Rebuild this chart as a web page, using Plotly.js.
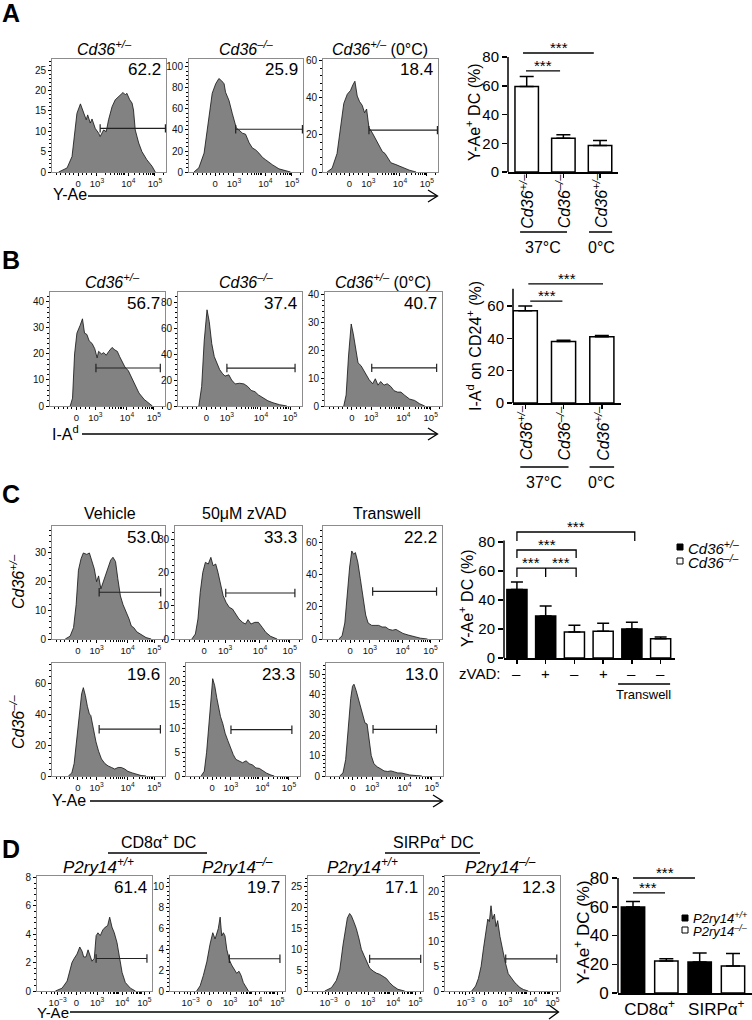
<!DOCTYPE html>
<html><head><meta charset="utf-8">
<script src="https://cdn.plot.ly/plotly-3.0.1.min.js"></script>
<style>html,body{margin:0;padding:0;background:#fff}</style>
</head><body><div id="chart" style="width:752px;height:1020px"></div>
<script>
// ---------------- DATA ----------------
// Histogram x values are in display units on the biexponential axis (3 = 10^3, 4 = 10^4 ...)
const a1X = [1.68,1.97,2.14,2.22,2.31,2.43,2.54,2.63,2.68,2.77,2.83,2.94,3.06,3.11,3.23,3.32,3.40,3.52,3.63,3.75,3.83,3.90,3.98,4.03,4.13,4.21,4.26,4.32,4.44,4.55,4.72,4.90,5.01];
const a1Y = [0,1,3.8,8.5,14.4,16.7,14.4,12.8,14,12,13,10.7,9.5,8.7,10.3,9.9,12.8,16,17.7,18.5,18.9,19.5,18.9,19.3,17.7,16.9,15.2,10.3,7.1,5,3,1.4,0];
const a2X = [1.62,1.79,1.97,2.08,2.16,2.25,2.37,2.48,2.57,2.66,2.71,2.83,2.94,3.08,3.17,3.29,3.40,3.52,3.63,3.75,3.86,3.98,4.09,4.21,4.32,4.55,4.78,4.95];
const a2Y = [0,4,18,40,60,75,84,89,87,84,76,68,56,42,40,37,36,28,23,21,18,14,11.7,9,7,3,1,0];
const a3X = [1.59,1.76,1.93,2.05,2.16,2.28,2.39,2.47,2.54,2.62,2.70,2.79,2.87,2.94,3.02,3.14,3.25,3.37,3.48,3.57,3.66,3.77,3.94,4.17,4.40,4.63];
const a3Y = [0,2,10,25,37,42,44,47,49,41,38,36,32,34,24,21,18,14,11,10,8,5,4,2.5,1,0];

const b1X = [2.14,2.22,2.29,2.37,2.48,2.56,2.63,2.71,2.79,2.89,2.98,3.06,3.11,3.21,3.29,3.37,3.46,3.57,3.67,3.75,3.83,3.92,4.01,4.13,4.24,4.36,4.49,4.67,4.84,4.95];
const b1Y = [0,3,20,28,31,33.5,28,27.5,25,24,22,18.5,21,20,20.5,19.5,21,22.5,21.5,21,19,17,15,13.5,11,8,5,2.5,0.8,0];
const b2X = [2.11,2.20,2.28,2.37,2.44,2.52,2.60,2.69,2.77,2.86,2.94,3.06,3.15,3.26,3.40,3.54,3.66,3.77,3.89,4.00,4.15,4.30,4.46,4.67,4.90];
const b2Y = [0,15,50,74,65,48,38,33,28,25,23,24,20,17,17.5,17,15,12,11,8.5,6,4,2.5,1,0];
const b3X = [2.08,2.16,2.24,2.33,2.40,2.48,2.56,2.66,2.74,2.83,2.93,3.05,3.14,3.23,3.32,3.43,3.54,3.66,3.77,3.89,4.00,4.11,4.29,4.46,4.63,4.80];
const b3Y = [0,4,18,29.5,26,20,15.5,14.5,13,11,9.5,8,9.8,7.5,8.8,7.5,8,7,5.5,5,5,4,2.5,2,0.8,0];

const c11X = [1.91,2.08,2.20,2.29,2.37,2.46,2.54,2.66,2.75,2.83,2.92,3.00,3.07,3.15,3.23,3.32,3.41,3.49,3.57,3.66,3.74,3.83,3.92,4.01,4.13,4.21,4.29,4.40,4.55,4.72,4.90];
const c11Y = [0,1,4,12,24,28,30,29.5,30,27,24.5,20,22,17.5,20,23,25.5,27.5,28.5,27,21,15,12,10,7,4.5,4,2.5,1.5,0.5,0];
const c12X = [1.97,2.08,2.16,2.23,2.31,2.39,2.48,2.56,2.63,2.71,2.78,2.85,2.94,3.03,3.13,3.23,3.32,3.43,3.54,3.63,3.71,3.80,3.92,4.03,4.15,4.26,4.41,4.61];
const c12Y = [0,1.5,6,14,20,23,22.5,24.5,22,22.5,20,17,13,11,9.5,9,7.5,6,5,4.5,5.8,4.5,5,5,3.5,2,0.8,0];
const c13X = [1.97,2.08,2.17,2.25,2.33,2.40,2.46,2.52,2.60,2.68,2.77,2.86,2.94,3.06,3.17,3.29,3.40,3.52,3.63,3.75,3.86,3.98,4.09,4.26,4.44,4.67,4.90];
const c13Y = [0,2,10,28,45,55,53,54,48,38,25,15,10,8.5,8.5,8.5,7.5,7.5,6,5.5,6,4.5,3.5,2.5,1.5,0.5,0];
const c21X = [2.02,2.14,2.22,2.31,2.40,2.48,2.54,2.61,2.68,2.75,2.80,2.89,2.98,3.07,3.17,3.29,3.40,3.52,3.63,3.75,3.86,3.98,4.09,4.24,4.38,4.55,4.72];
const c21Y = [0,2,8,25,42,53,57,52,45,40,39,30,22,16,11,8,6.5,5.5,4.5,5.5,5.5,4.5,3,2,1,0.3,0];
const c22X = [1.97,2.08,2.16,2.23,2.31,2.37,2.44,2.51,2.59,2.64,2.72,2.80,2.89,2.98,3.08,3.17,3.29,3.40,3.52,3.63,3.75,3.86,3.98,4.09,4.23,4.38,4.49];
const c22Y = [0,1,5,11,16,20.5,19,16.5,14,12.5,11,9,7.5,6,4.5,3.5,3.2,2.8,3.2,2.6,2.3,1.7,1.6,1.1,0.6,0.2,0];
const c23X = [1.91,2.02,2.11,2.20,2.28,2.34,2.39,2.46,2.54,2.62,2.69,2.76,2.83,2.90,2.97,3.06,3.17,3.29,3.40,3.52,3.63,3.75,3.86,3.98,4.09,4.26,4.49,4.67];
const c23Y = [0,1.5,8,25,38,44,45,42,38,33,30,26,25.5,17,10,6,4.5,3.5,2.5,2.2,2.5,2,1.5,1.5,1,0.5,0.2,0];

const d1X = [1.19,1.48,1.70,1.84,1.91,2.01,2.13,2.25,2.35,2.42,2.52,2.61,2.68,2.78,2.88,2.96,3.04,3.14,3.25,3.36,3.46,3.55,3.65,3.75,3.87,3.97,4.09,4.23,4.45,4.67];
const d1Y = [0,0.2,0.7,1.5,2.0,2.3,2.6,3.1,2.8,2.4,2.4,2.9,2.6,2.1,2.3,3.9,4.1,3.9,4.3,4.5,4.6,5.2,4.5,4.1,3.4,2.3,1.3,0.6,0.2,0];
const d2X = [1.55,1.70,1.84,1.99,2.13,2.25,2.35,2.42,2.49,2.57,2.64,2.71,2.78,2.86,2.97,3.07,3.19,3.29,3.39,3.48,3.58,3.70,3.80];
const d2Y = [0,0.5,1.5,2.8,4.5,5.6,5.0,5.5,6.0,7.1,5.3,5.6,5.3,4.0,3.0,2.5,2.0,1.7,1.9,1.5,0.8,0.3,0];
const d3X = [1.12,1.41,1.62,1.77,1.91,2.01,2.10,2.20,2.28,2.39,2.49,2.61,2.71,2.83,2.94,3.07,3.22,3.36,3.51,3.65,3.80,3.94,4.09,4.30,4.59];
const d3Y = [0,0.8,2.5,5,11,15,17.5,18.6,18,16.5,15,12.5,10,8.5,7,5.5,4.8,4.3,4,3.5,3,2,1.2,0.4,0];
const d4X = [1.55,1.72,1.84,1.96,2.06,2.16,2.25,2.32,2.39,2.46,2.54,2.61,2.68,2.78,2.90,3.00,3.14,3.29,3.41,3.51,3.65,3.80,4.01];
const d4Y = [0,1,2.5,5,8.5,12,14.5,14,17.2,14.5,15.5,13,14.2,11,8,6,3.5,2.5,1.8,1.3,0.7,0.3,0];

// Gates: [level, start, end]
const gatesA = [[10.7,3.11,5.36],[40.7,3.06,5.36],[22.6,3.02,5.36]];
const gatesB = [[14.6,3.02,5.22],[29.2,3.00,5.16],[13.7,3.02,5.20]];
const gatesC = [[16.3,3.09,5.23],[13.8,3.02,5.16],[29.7,3.09,5.20],[30.2,3.09,5.22],[9.75,3.00,5.10],[22.9,3.03,5.16]];
const gatesD = [[2.29,2.96,5.17],[3.1,2.97,5.17],[7.7,3.07,5.29],[6.5,3.03,5.25]];

const pctA = ['62.2','25.9','18.4'];
const pctB = ['56.7','37.4','40.7'];
const pctC = ['53.0','33.3','22.2','19.6','23.3','13.0'];
const pctD = ['61.4','19.7','17.1','12.3'];

const titlesA = ['<i>Cd36<sup>+/–</sup></i>','<i>Cd36<sup>–/–</sup></i>','<i>Cd36<sup>+/–</sup></i> (0°C)'];
const titlesC = ['Vehicle','50μM zVAD','Transwell'];
const titlesD = ['<i>P2ry14<sup>+/+</sup></i>','<i>P2ry14<sup>–/–</sup></i>','<i>P2ry14<sup>+/+</sup></i>','<i>P2ry14<sup>–/–</sup></i>'];

const xTickTextAC = ['0','10<sup>3</sup>','10<sup>4</sup>','10<sup>5</sup>'];
const xTickTextD = ['10<sup>−3</sup>','0','10<sup>3</sup>','10<sup>4</sup>','10<sup>5</sup>'];

// Bar charts
const barCatAB = ['<i>Cd36<sup>+/–</sup></i>','<i>Cd36<sup>–/–</sup></i>','<i>Cd36<sup>+/–</sup></i>'];
const aVals = [59.5,23.5,18.5];
const aErr = [7,2.5,3.5];
const bVals = [57,38,41];
const bErr = [3,0.8,0.8];
const cVals = [47.3,28.9,18,18.5,20,13.2];
const cErr = [5.1,6.9,4.6,5.5,4.7,1.3];
const cGeno = ['het','het','ko','ko','het','ko'];
const cZvad = ['–','+','–','+','–','–'];
const dVals = [59.8,22.3,21.6,18.8];
const dErr = [3.8,1.6,6.2,8.6];
const dGeno = ['wt','ko','wt','ko'];
const dCats = ['CD8α<sup>+</sup>','SIRPα<sup>+</sup>'];

// ---------------- HELPERS ----------------
const FONT = 'Liberation Sans, Arial, Helvetica, sans-serif';
const W = 752, H = 1020;
const X = p => p / W, Y = p => 1 - p / H;
const traces = [], shapes = [], annotations = [];
const layout = {
  width: W, height: H, margin: {l:0,r:0,t:0,b:0}, showlegend:false,
  paper_bgcolor:'#fff', plot_bgcolor:'rgba(0,0,0,0)', font:{family:FONT, color:'#000'}
};
let axN = 0;
const axKey = (c,n) => c + 'axis' + (n===1 ? '' : n);
const axRef = (c,n) => c + (n===1 ? '' : n);

function logMinor(extra, hi){
  const v = extra.slice();
  for (const d of [3,4,5]) for (let k=2;k<=9;k++){ const t=d+Math.log10(k); if (t<hi) v.push(t); }
  return v;
}
const minorAC = logMinor([1.6,1.75,1.9,2.05,2.2,2.5,2.65,2.8], 5.38);
const minorD = logMinor([0.6,0.8,1.0,1.15,1.45,1.6,1.75,1.9,2.3,2.5,2.7,2.85], 5.39);

function ann(o){ annotations.push(Object.assign({showarrow:false, xanchor:'center', yanchor:'middle'}, o)); }
function line(x0,y0,x1,y1,w){ shapes.push({type:'line', xref:'paper', yref:'paper', x0:X(x0), y0:Y(y0), x1:X(x1), y1:Y(y1), line:{color:'#000', width:w||1.3}}); }

function hist(box, xs, ys, ymax, dtick, gate, kind, pct){
  const n = ++axN; const xa = axRef('x',n), ya = axRef('y',n);
  traces.push({type:'scatter', mode:'lines', x:xs, y:ys, xaxis:xa, yaxis:ya, fill:'tozeroy',
    fillcolor:'#828282', line:{color:'#111', width:0.8}, hoverinfo:'skip'});
  traces.push({type:'scatter', mode:'lines+markers', x:[gate[1],gate[2]], y:[gate[0],gate[0]], xaxis:xa, yaxis:ya,
    line:{color:'#222', width:1.2}, marker:{symbol:'line-ns-open', size:6, line:{color:'#222', width:1.2}}, hoverinfo:'skip'});
  const isD = kind === 'D';
  layout[axKey('x',n)] = {domain:[X(box[0]),X(box[1])], range: isD ? [0.39,5.39] : [1.45,5.38], anchor:ya,
    showline:true, mirror:true, linecolor:'#8c8c8c', linewidth:1, ticks:'outside', ticklen:3, tickcolor:'#000', tickwidth:1,
    tickmode:'array', tickvals: isD ? [1.29,2.1,3,4.09,5.06] : [2.35,3,4.08,5.0], ticktext: isD ? xTickTextD : xTickTextAC,
    tickfont:{size:9.5, color:'#111'}, showgrid:false, zeroline:false,
    minor:{ticks:'outside', ticklen:2, tickcolor:'#000', tickmode:'array', tickvals: isD ? minorD : minorAC, showgrid:false}};
  layout[axKey('y',n)] = {domain:[Y(box[3]),Y(box[2])], range:[0,ymax], anchor:xa,
    showline:true, mirror:true, linecolor:'#8c8c8c', linewidth:1, ticks:'outside', ticklen:3, tickcolor:'#000',
    dtick:dtick, tickfont:{size:10, color:'#111'}, showgrid:false, zeroline:false,
    minor:{ticks:'outside', ticklen:2, tickcolor:'#000', dtick:dtick/5, showgrid:false}};
  ann({xref:'paper', yref:'paper', x:X(box[1]-3), y:Y(box[2]+11), xanchor:'right', text:pct, font:{size:17}});
}

// ---------------- PANEL A ----------------
ann({xref:'paper', yref:'paper', x:X(0), y:Y(13), xanchor:'left', text:'<b>A</b>', font:{size:25}});
hist([52,166,59,172], a1X, a1Y, 27.7, 5, gatesA[0], 'A', pctA[0]);
hist([189,303,59,172], a2X, a2Y, 107.6, 20, gatesA[1], 'A', pctA[1]);
hist([323,438,59,172], a3X, a3Y, 61, 20, gatesA[2], 'A', pctA[2]);
[104,246,380].forEach((cx,i)=>ann({xref:'paper', yref:'paper', x:X(cx), y:Y(48), text:titlesA[i], font:{size:16}}));
ann({xref:'paper', yref:'paper', x:X(51), y:Y(194), xanchor:'left', text:'Y-Ae', font:{size:16}});
line(88,196,437,196,1.3);
shapes.push({type:'path', xref:'paper', yref:'paper', path:`M ${X(428)},${Y(190)} L ${X(437.5)},${Y(196)} L ${X(428)},${Y(202)}`, line:{color:'#000', width:1.3}});

// ---------------- PANEL B ----------------
ann({xref:'paper', yref:'paper', x:X(0), y:Y(260), xanchor:'left', text:'<b>B</b>', font:{size:25}});
hist([50,165,292,406], b1X, b1Y, 43.8, 10, gatesB[0], 'B', pctB[0]);
hist([178,302,292,406], b2X, b2Y, 87.7, 20, gatesB[1], 'B', pctB[1]);
hist([325,442,292,406], b3X, b3Y, 41, 10, gatesB[2], 'B', pctB[2]);
[112,246,383].forEach((cx,i)=>ann({xref:'paper', yref:'paper', x:X(cx), y:Y(281), text:titlesA[i], font:{size:16}}));
ann({xref:'paper', yref:'paper', x:X(50), y:Y(433), xanchor:'left', text:'I-A<sup>d</sup>', font:{size:16}});
line(82,434,437,434,1.3);
shapes.push({type:'path', xref:'paper', yref:'paper', path:`M ${X(428)},${Y(428)} L ${X(437.5)},${Y(434)} L ${X(428)},${Y(440)}`, line:{color:'#000', width:1.3}});

// ---------------- PANEL C ----------------
ann({xref:'paper', yref:'paper', x:X(0), y:Y(494), xanchor:'left', text:'<b>C</b>', font:{size:25}});
hist([52,165,526,639], c11X, c11Y, 39.4, 10, gatesC[0], 'C', pctC[0]);
hist([175,302,526,639], c12X, c12Y, 33.9, 10, gatesC[1], 'C', pctC[1]);
hist([323,442,526,639], c13X, c13Y, 70.6, 20, gatesC[2], 'C', pctC[2]);
hist([52,165,663,776], c21X, c21Y, 72.9, 20, gatesC[3], 'C', pctC[3]);
hist([186,300,663,776], c22X, c22Y, 23.8, 5, gatesC[4], 'C', pctC[4]);
hist([326,443,663,776], c23X, c23Y, 55.4, 10, gatesC[5], 'C', pctC[5]);
[110,245,387].forEach((cx,i)=>ann({xref:'paper', yref:'paper', x:X(cx), y:Y(513), text:titlesC[i], font:{size:16}}));
ann({xref:'paper', yref:'paper', x:X(17), y:Y(582), textangle:-90, text:'<i>Cd36<sup>+/–</sup></i>', font:{size:16}});
ann({xref:'paper', yref:'paper', x:X(17), y:Y(722), textangle:-90, text:'<i>Cd36<sup>–/–</sup></i>', font:{size:16}});
ann({xref:'paper', yref:'paper', x:X(50), y:Y(800), xanchor:'left', text:'Y-Ae', font:{size:16}});
line(90,801,442,801,1.3);
shapes.push({type:'path', xref:'paper', yref:'paper', path:`M ${X(433)},${Y(795)} L ${X(442.5)},${Y(801)} L ${X(433)},${Y(807)}`, line:{color:'#000', width:1.3}});

// ---------------- PANEL D ----------------
ann({xref:'paper', yref:'paper', x:X(0), y:Y(849), xanchor:'left', text:'<b>D</b>', font:{size:25}});
hist([37,152,876,991], d1X, d1Y, 8.1, 2, gatesD[0], 'D', pctD[0]);
hist([170,285,876,991], d2X, d2Y, 11.05, 2, gatesD[1], 'D', pctD[1]);
hist([308,423,876,991], d3X, d3Y, 27.6, 5, gatesD[2], 'D', pctD[2]);
hist([445,560,876,991], d4X, d4Y, 23.2, 5, gatesD[3], 'D', pctD[3]);
[99,237,362,500].forEach((cx,i)=>ann({xref:'paper', yref:'paper', x:X(cx), y:Y(866), text:titlesD[i], font:{size:17}}));
ann({xref:'paper', yref:'paper', x:X(158), y:Y(841), text:'CD8α<sup>+</sup> DC', font:{size:16}});
line(108,853,207,853,1.3);
ann({xref:'paper', yref:'paper', x:X(433), y:Y(841), text:'SIRPα<sup>+</sup> DC', font:{size:16}});
line(385,853,480,853,1.3);
ann({xref:'paper', yref:'paper', x:X(35), y:Y(1012.5), xanchor:'left', text:'Y-Ae', font:{size:15}});
line(70,1012,558,1012,1.3);
shapes.push({type:'path', xref:'paper', yref:'paper', path:`M ${X(549)},${Y(1005)} L ${X(558.5)},${Y(1012)} L ${X(549)},${Y(1019)}`, line:{color:'#000', width:1.3}});

// ---------------- BAR CHART HELPER ----------------
function barAxes(n, xdom, x0px, pxPerUnit, yTopVal, xr, xopts, yticks, axisTop, tickSize){
  const xa = axRef('x',n), ya = axRef('y',n);
  layout[axKey('x',n)] = Object.assign({domain:[X(xdom[0]), Math.min(1,X(xdom[1]))], range:xr, anchor:ya,
    showline:true, linecolor:'#000', linewidth:1.5, ticks:'outside', ticklen:4, tickwidth:1.5, tickcolor:'#000',
    showgrid:false, zeroline:false, tickfont:{size:15}}, xopts);
  layout[axKey('y',n)] = {domain:[Y(x0px), Y(x0px - yTopVal*pxPerUnit)], range:[0,yTopVal], anchor:xa,
    showline:false, ticks:'outside', ticklen:5, tickwidth:1.5, tickcolor:'#000', tickmode:'array',
    tickvals: yticks, showgrid:false, zeroline:false, tickfont:{size:tickSize||15}};
  shapes.push({type:'line', xref:xa+' domain', yref:ya, x0:0, x1:0, y0:0, y1:axisTop, line:{color:'#000', width:1.5}});
  return [xa, ya];
}
function sig(xa, ya, x0, x1, yv, stars){
  shapes.push({type:'line', xref:xa, yref:ya, x0:x0, x1:x1, y0:yv, y1:yv, line:{color:'#000', width:1.3}});
  ann({xref:xa, yref:ya, x:stars, y:yv, yanchor:'bottom', yshift:-5, text:'***', font:{size:15}});
}
function bracket(xa, ya, x0, x1, ytop, ybot, mids){
  let p = `M ${x0},${ybot} L ${x0},${ytop} L ${x1},${ytop} L ${x1},${ybot}`;
  (mids||[]).forEach(m => { p += ` M ${m},${ytop} L ${m},${ybot}`; });
  shapes.push({type:'path', xref:xa, yref:ya, path:p, line:{color:'#000', width:1.3}});
}
const errStyle = (arr, w) => ({type:'data', symmetric:false, array:arr, arrayminus:arr.map(()=>0), color:'#000', thickness:1.5, width:w});

// ---------------- BAR A ----------------
{
  const n = ++axN;
  const [xa, ya] = barAxes(n, [508,618], 172, 115/80, 90, [-0.51,2.49],
    {tickvals:[0,1,2], showticklabels:false}, [0,20,40,60,80], 80);
  traces.push({type:'bar', x:[0,1,2], y:aVals, xaxis:xa, yaxis:ya, width:0.64,
    marker:{color:'#fff', line:{color:'#000', width:1.5}}, error_y:errStyle(aErr,7), hoverinfo:'skip'});
  barCatAB.forEach((t,i)=>ann({xref:xa, yref:'paper', x:i, y:Y(201), textangle:-90, text:t, font:{size:16}}));
  sig(xa, ya, -0.02, 0.91, 70.3, 0.45);
  sig(xa, ya, -0.1, 1.83, 82.8, 0.87);
  shapes.push({type:'line', xref:xa, yref:'paper', x0:-0.18, x1:1.1, y0:Y(232), y1:Y(232), line:{color:'#000', width:1.5}});
  shapes.push({type:'line', xref:xa, yref:'paper', x0:1.7, x1:2.33, y0:Y(232), y1:Y(232), line:{color:'#000', width:1.5}});
  ann({xref:xa, yref:'paper', x:0.45, y:Y(247), text:'37°C', font:{size:16}});
  ann({xref:xa, yref:'paper', x:2.03, y:Y(247), text:'0°C', font:{size:16}});
  ann({xref:'paper', yref:'paper', x:X(473), y:Y(112), textangle:-90, text:'Y-Ae<sup>+</sup> DC (%)', font:{size:16}});
}
// ---------------- BAR B ----------------
{
  const n = ++axN;
  const [xa, ya] = barAxes(n, [513,621], 403, 97/60, 78, [-0.32,2.5],
    {tickvals:[0,1,2], showticklabels:false}, [0,20,40,60], 70.6);
  traces.push({type:'bar', x:[0,1,2], y:bVals, xaxis:xa, yaxis:ya, width:0.63,
    marker:{color:'#fff', line:{color:'#000', width:1.5}}, error_y:errStyle(bErr,7), hoverinfo:'skip'});
  barCatAB.forEach((t,i)=>ann({xref:xa, yref:'paper', x:i, y:Y(433), textangle:-90, text:t, font:{size:16}}));
  sig(xa, ya, 0.13, 0.97, 63, 0.56);
  sig(xa, ya, 0.08, 2.03, 73.7, 1.1);
  shapes.push({type:'line', xref:xa, yref:'paper', x0:-0.13, x1:1.13, y0:Y(467), y1:Y(467), line:{color:'#000', width:1.5}});
  shapes.push({type:'line', xref:xa, yref:'paper', x0:1.68, x1:2.32, y0:Y(467), y1:Y(467), line:{color:'#000', width:1.5}});
  ann({xref:xa, yref:'paper', x:0.5, y:Y(482), text:'37°C', font:{size:16}});
  ann({xref:xa, yref:'paper', x:2.0, y:Y(482), text:'0°C', font:{size:16}});
  ann({xref:'paper', yref:'paper', x:X(474), y:Y(346), textangle:-90, text:'I-A<sup>d</sup> on CD24<sup>+</sup> (%)', font:{size:16}});
}
// ---------------- BAR C ----------------
{
  const n = ++axN;
  const [xa, ya] = barAxes(n, [504,675], 658, 29/20, 95, [-0.45,5.5],
    {tickvals:[0,1,2,3,4,5], showticklabels:false}, [0,20,40,60,80], 81);
  const idx = cVals.map((v,i)=>i);
  const het = idx.filter(i=>cGeno[i]==='het'), ko = idx.filter(i=>cGeno[i]==='ko');
  traces.push({type:'bar', x:het, y:het.map(i=>cVals[i]), xaxis:xa, yaxis:ya, width:0.7,
    marker:{color:'#000', line:{color:'#000', width:1.5}}, error_y:errStyle(het.map(i=>cErr[i]),6), hoverinfo:'skip'});
  traces.push({type:'bar', x:ko, y:ko.map(i=>cVals[i]), xaxis:xa, yaxis:ya, width:0.7,
    marker:{color:'#fff', line:{color:'#000', width:1.5}}, error_y:errStyle(ko.map(i=>cErr[i]),6), hoverinfo:'skip'});
  layout.barmode = 'overlay';
  cZvad.forEach((t,i)=>ann({xref:xa, yref:'paper', x:i, y:Y(673), text:t, font:{size:15}}));
  bracket(xa, ya, 0, 4.1, 86.9, 80.7);
  bracket(xa, ya, 0, 2.06, 74.5, 69);
  bracket(xa, ya, 0, 2.06, 62, 55.9, [1]);
  ann({xref:xa, yref:ya, x:2.06, y:86.9, yanchor:'bottom', yshift:-5, text:'***', font:{size:15}});
  ann({xref:xa, yref:ya, x:1.03, y:74.5, yanchor:'bottom', yshift:-5, text:'***', font:{size:15}});
  ann({xref:xa, yref:ya, x:0.5, y:62, yanchor:'bottom', yshift:-5, text:'***', font:{size:15}});
  ann({xref:xa, yref:ya, x:1.53, y:62, yanchor:'bottom', yshift:-5, text:'***', font:{size:15}});
  ann({xref:'paper', yref:'paper', x:X(502), y:Y(673), xanchor:'right', text:'zVAD:', font:{size:15}});
  shapes.push({type:'line', xref:xa, yref:'paper', x0:3.52, x1:5.33, y0:Y(684), y1:Y(684), line:{color:'#000', width:1.5}});
  ann({xref:xa, yref:'paper', x:4.42, y:Y(694), text:'Transwell', font:{size:13}});
  ann({xref:'paper', yref:'paper', x:X(466), y:Y(598), textangle:-90, text:'Y-Ae<sup>+</sup> DC (%)', font:{size:16}});
  shapes.push({type:'rect', xref:'paper', yref:'paper', x0:X(677), x1:X(683), y0:Y(550), y1:Y(544), fillcolor:'#000', line:{color:'#000', width:1}});
  shapes.push({type:'rect', xref:'paper', yref:'paper', x0:X(677), x1:X(683), y0:Y(564), y1:Y(558), fillcolor:'#fff', line:{color:'#000', width:1}});
  ann({xref:'paper', yref:'paper', x:X(686), y:Y(547), xanchor:'left', text:'<i>Cd36<sup>+/–</sup></i>', font:{size:15}});
  ann({xref:'paper', yref:'paper', x:X(686), y:Y(561), xanchor:'left', text:'<i>Cd36<sup>–/–</sup></i>', font:{size:15}});
}
// ---------------- BAR D ----------------
{
  const n = ++axN;
  const [xa, ya] = barAxes(n, [618,752], 993, 115/80, 90, [-0.45,3.57],
    {tickvals:[0.5,2.5], ticktext:dCats, ticks:'', tickfont:{size:17}}, [0,20,40,60,80], 80, 17);
  const idx = dVals.map((v,i)=>i);
  const wt = idx.filter(i=>dGeno[i]==='wt'), ko = idx.filter(i=>dGeno[i]==='ko');
  traces.push({type:'bar', x:wt, y:wt.map(i=>dVals[i]), xaxis:xa, yaxis:ya, width:0.7,
    marker:{color:'#000', line:{color:'#000', width:1.5}}, error_y:errStyle(wt.map(i=>dErr[i]),7), hoverinfo:'skip'});
  traces.push({type:'bar', x:ko, y:ko.map(i=>dVals[i]), xaxis:xa, yaxis:ya, width:0.7,
    marker:{color:'#fff', line:{color:'#000', width:1.5}}, error_y:errStyle(ko.map(i=>dErr[i]),7), hoverinfo:'skip'});
  sig(xa, ya, 0, 0.96, 69.6, 0.45);
  sig(xa, ya, 0, 1.86, 80, 0.96);
  ann({xref:'paper', yref:'paper', x:X(582), y:Y(932), textangle:-90, text:'Y-Ae<sup>+</sup> DC (%)', font:{size:17}});
  shapes.push({type:'rect', xref:'paper', yref:'paper', x0:X(682), x1:X(688), y0:Y(921), y1:Y(915), fillcolor:'#000', line:{color:'#000', width:1}});
  shapes.push({type:'rect', xref:'paper', yref:'paper', x0:X(682), x1:X(688), y0:Y(933), y1:Y(927), fillcolor:'#fff', line:{color:'#000', width:1}});
  ann({xref:'paper', yref:'paper', x:X(691), y:Y(917.5), xanchor:'left', text:'<i>P2ry14<sup>+/+</sup></i>', font:{size:13}});
  ann({xref:'paper', yref:'paper', x:X(691), y:Y(930.5), xanchor:'left', text:'<i>P2ry14<sup>–/–</sup></i>', font:{size:13}});
}

layout.shapes = shapes;
layout.annotations = annotations;
Plotly.newPlot('chart', traces, layout, {staticPlot:true, displayModeBar:false});
</script></body></html>
